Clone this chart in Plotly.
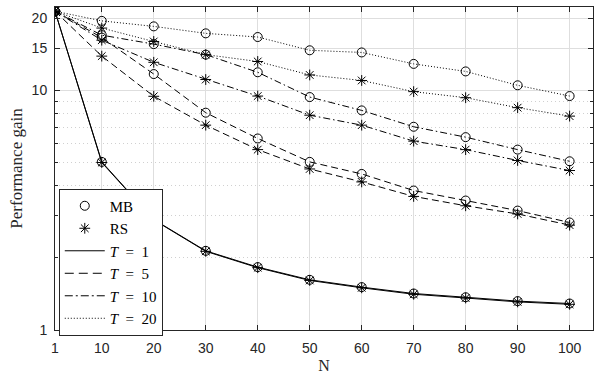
import plotly.graph_objects as go

N = [1, 10, 20, 30, 40, 50, 60, 70, 80, 90, 100]

mb_T1 = [21.4, 5.03, 2.89, 2.14, 1.83, 1.62, 1.51, 1.42, 1.37, 1.32, 1.29]
rs_T1 = [21.4, 5.00, 2.88, 2.13, 1.82, 1.61, 1.50, 1.41, 1.36, 1.31, 1.28]
mb_T5 = [21.4, 16.6, 11.7, 8.07, 6.30, 5.03, 4.48, 3.82, 3.47, 3.15, 2.81]
rs_T5 = [21.4, 13.9, 9.45, 7.16, 5.66, 4.70, 4.15, 3.61, 3.30, 3.05, 2.74]
mb_T10 = [21.4, 17.0, 15.6, 14.1, 11.9, 9.38, 8.25, 7.05, 6.38, 5.66, 5.06]
rs_T10 = [21.4, 16.2, 13.1, 11.1, 9.47, 7.88, 7.16, 6.14, 5.66, 5.10, 4.63]
mb_T20 = [21.4, 19.5, 18.5, 17.3, 16.7, 14.7, 14.4, 12.9, 12.0, 10.5, 9.47]
rs_T20 = [21.4, 18.2, 16.0, 14.1, 13.2, 11.6, 11.0, 9.88, 9.32, 8.47, 7.81]

x_ticks = [1, 10, 20, 30, 40, 50, 60, 70, 80, 90, 100]
y_ticks = [1, 10, 15, 20]
y_minor = [2, 3, 4, 5, 6, 7, 8, 9]

DASH = "7px,4px"
DOT = "1px,2px"
DASHDOT = "7px,3px,1.5px,3px"

series = [
    (mb_T1, "circle-open", "solid"), (rs_T1, "asterisk-open", "solid"),
    (mb_T5, "circle-open", DASH), (rs_T5, "asterisk-open", DASH),
    (mb_T10, "circle-open", DASHDOT), (rs_T10, "asterisk-open", DASHDOT),
    (mb_T20, "circle-open", DOT), (rs_T20, "asterisk-open", DOT),
]

fig = go.Figure()
for vals, sym, dash in series:
    fig.add_trace(go.Scatter(
        x=N, y=vals, mode="lines+markers", showlegend=False,
        line=dict(color="black", width=1, dash=dash),
        marker=dict(symbol=sym, size=9, color="black", line=dict(width=1, color="black")),
    ))

SP = "\u2002"
# legend-only entries
fig.add_trace(go.Scatter(x=[None], y=[None], mode="markers", name="MB",
                         marker=dict(symbol="circle-open", size=9, color="black", line=dict(width=1))))
fig.add_trace(go.Scatter(x=[None], y=[None], mode="markers", name="RS",
                         marker=dict(symbol="asterisk-open", size=9, color="black", line=dict(width=1))))
for lab, dash in [("1", "solid"), ("5", "9px,5px"), ("10", "8px,3px,2px,3px"), ("20", DOT)]:
    fig.add_trace(go.Scatter(x=[None], y=[None], mode="lines",
                             name="<i>T</i>" + SP + "=" + SP + lab,
                             line=dict(color="black", width=1, dash=dash)))

axis_common = dict(
    showline=True, linecolor="#262626", linewidth=1, mirror="ticks",
    ticks="inside", ticklen=5, tickcolor="#262626",
    tickfont=dict(family="Liberation Sans, Arial", size=14, color="#262626"),
    showgrid=True, gridcolor="#dedede", gridwidth=1, zeroline=False,
)

fig.update_xaxes(**axis_common, range=[1, 104.5], tickmode="array", tickvals=x_ticks,
                 ticklabelstandoff=5,
                 title=dict(text="N", font=dict(family="Liberation Serif, DejaVu Serif", size=16, color="#262626"),
                            standoff=5))
fig.update_yaxes(**axis_common, type="log", range=[0, 1.348], tickmode="array", tickvals=y_ticks,
                 ticktext=[str(v) for v in y_ticks], ticklabelstandoff=4,
                 minor=dict(tickmode="array", tickvals=y_minor, ticks="inside", ticklen=3,
                            tickcolor="#262626", showgrid=True, gridcolor="#d0d0d0", griddash="1px,3px",
                            gridwidth=1),
                 title=dict(text="Performance gain", font=dict(family="Liberation Serif, DejaVu Serif", size=17,
                                                               color="#262626"), standoff=4))

fig.update_layout(
    width=595, height=376,
    margin=dict(l=55, r=2, t=7, b=46),
    paper_bgcolor="white", plot_bgcolor="white",
    legend=dict(x=0.007, y=0.438, xanchor="left", yanchor="top",
                bgcolor="white", bordercolor="#262626", borderwidth=1,
                font=dict(family="Liberation Serif, DejaVu Serif", size=15, color="black"),
                tracegroupgap=0, itemwidth=40),
)

fig.write_html("out.html")
